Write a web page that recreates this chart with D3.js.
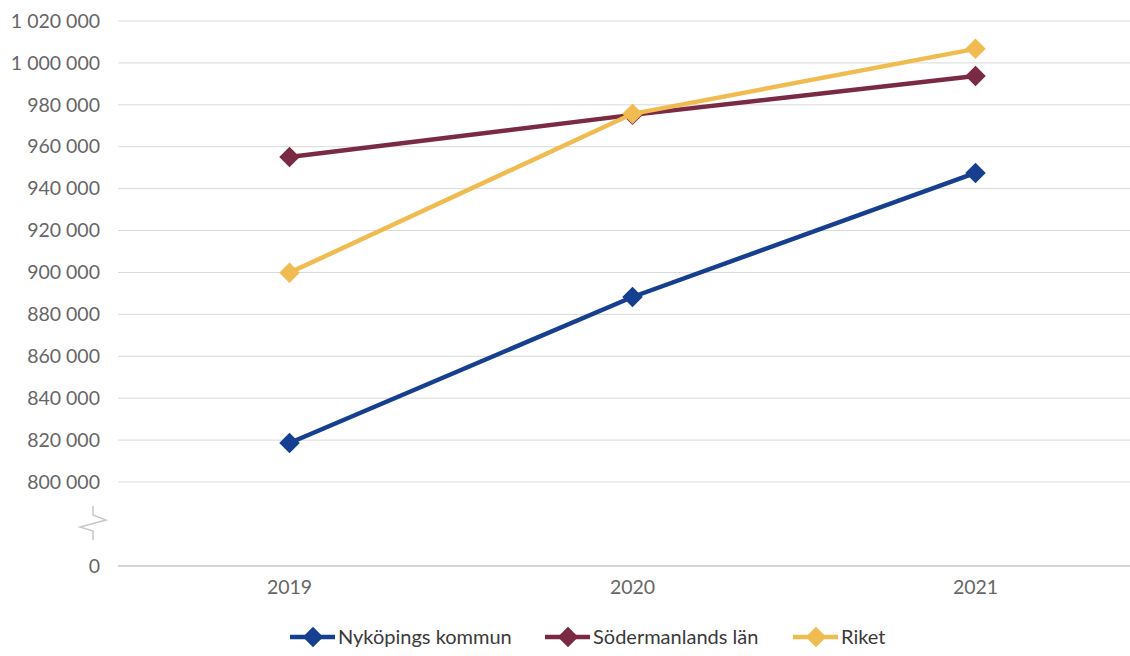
<!DOCTYPE html>
<html><head><meta charset="utf-8">
<script src="https://cdn.jsdelivr.net/npm/d3@7"></script>
<style>
html,body{margin:0;padding:0;background:#fff;}
svg{display:block;font-family:Lato,"Open Sans",sans-serif;}
</style></head>
<body>
<svg id="chart" width="1130" height="656"></svg>
<script>
const years = ["2019", "2020", "2021"];
const nykoping = [818600, 888300, 947500];
const sodermanland = [955100, 975200, 993800];
const riket = [899900, 975700, 1006700];
const seriesNames = ["Nyköpings kommun", "Södermanlands län", "Riket"];
const seriesColors = ["#173f8f", "#7b2a44", "#f0bb50"];
const yTicks = [0, 800000, 820000, 840000, 860000, 880000, 900000, 920000, 940000, 960000, 980000, 1000000, 1020000];

const series = [nykoping, sodermanland, riket].map((v, i) => ({name: seriesNames[i], color: seriesColors[i], values: v}));

const svg = d3.select("#chart");
const left = 118, right = 1147;
const x = d3.scaleBand().domain(years).range([left, right]);
// broken axis: 0 .. 800000 compressed
const y = d3.scaleLinear().domain([0, 800000, 1020000]).range([566, 482, 21]);

const loc = d3.formatLocale({decimal: ",", thousands: "\u2009", grouping: [3], currency: ["", " kr"]});
const fmt = v => loc.format(",")(v).replace(/\u2009/g, " ");

// gridlines
svg.append("g").selectAll("line").data(yTicks.filter(d => d > 0)).join("line")
  .attr("x1", left).attr("x2", 1130)
  .attr("y1", d => y(d)).attr("y2", d => y(d))
  .attr("stroke", "#d9d9d9").attr("stroke-width", 1);

// baseline
svg.append("line").attr("x1", left).attr("x2", 1130).attr("y1", y(0)).attr("y2", y(0))
  .attr("stroke", "#d4d4d4").attr("stroke-width", 2);

// y axis labels
const yAxis = d3.axisLeft(y).tickValues(yTicks).tickFormat(fmt).tickSize(0).tickPadding(0);
const ga = svg.append("g").attr("transform", "translate(100,0)").call(yAxis);
ga.select(".domain").remove();
ga.selectAll("text").attr("fill", "#666666").style("font-size", "19.5px").style("font-family", "Lato, sans-serif");

// axis break symbol
svg.append("path")
  .attr("d", "M93,506 L93,515 L106,520 L80,527 L93,531 L93,540")
  .attr("fill", "none").attr("stroke", "#c8c8c8").attr("stroke-width", 1.5);

// x axis labels
const xAxis = d3.axisBottom(x).tickSize(0).tickPadding(0);
const gx = svg.append("g").attr("transform", "translate(0,580)").call(xAxis);
gx.select(".domain").remove();
gx.selectAll("text").attr("fill", "#666666").style("font-size", "19.5px").style("font-family", "Lato, sans-serif");

const cx = d => x(d) + x.bandwidth() / 2;
const line = d3.line().x((d, i) => cx(years[i])).y(d => y(d));
const marker = d3.symbol().type(d3.symbolSquare).size(210);

series.forEach(s => {
  const g = svg.append("g");
  g.append("path").datum(s.values).attr("d", line)
    .attr("fill", "none").attr("stroke", s.color).attr("stroke-width", 4.5);
  g.selectAll("path.m").data(s.values).join("path").attr("class", "m")
    .attr("d", marker)
    .attr("transform", (d, j) => `translate(${cx(years[j])},${y(d)}) rotate(45)`)
    .attr("fill", s.color);
});

// legend
const legendX = [290, 545, 793];
const lg = svg.append("g");
series.forEach((s, i) => {
  const g = lg.append("g").attr("transform", `translate(${legendX[i]},637)`);
  g.append("line").attr("x1", 0).attr("x2", 45).attr("y1", 0).attr("y2", 0)
    .attr("stroke", s.color).attr("stroke-width", 4.5);
  g.append("path").attr("d", marker)
    .attr("transform", "translate(23,0) rotate(45)").attr("fill", s.color);
  g.append("text").attr("x", 48).attr("y", 0).attr("dy", "0.35em")
    .attr("fill", "#3a3a3a").style("font-size", "20px").style("font-family", "Lato, sans-serif")
    .text(s.name);
});
</script>
</body></html>
